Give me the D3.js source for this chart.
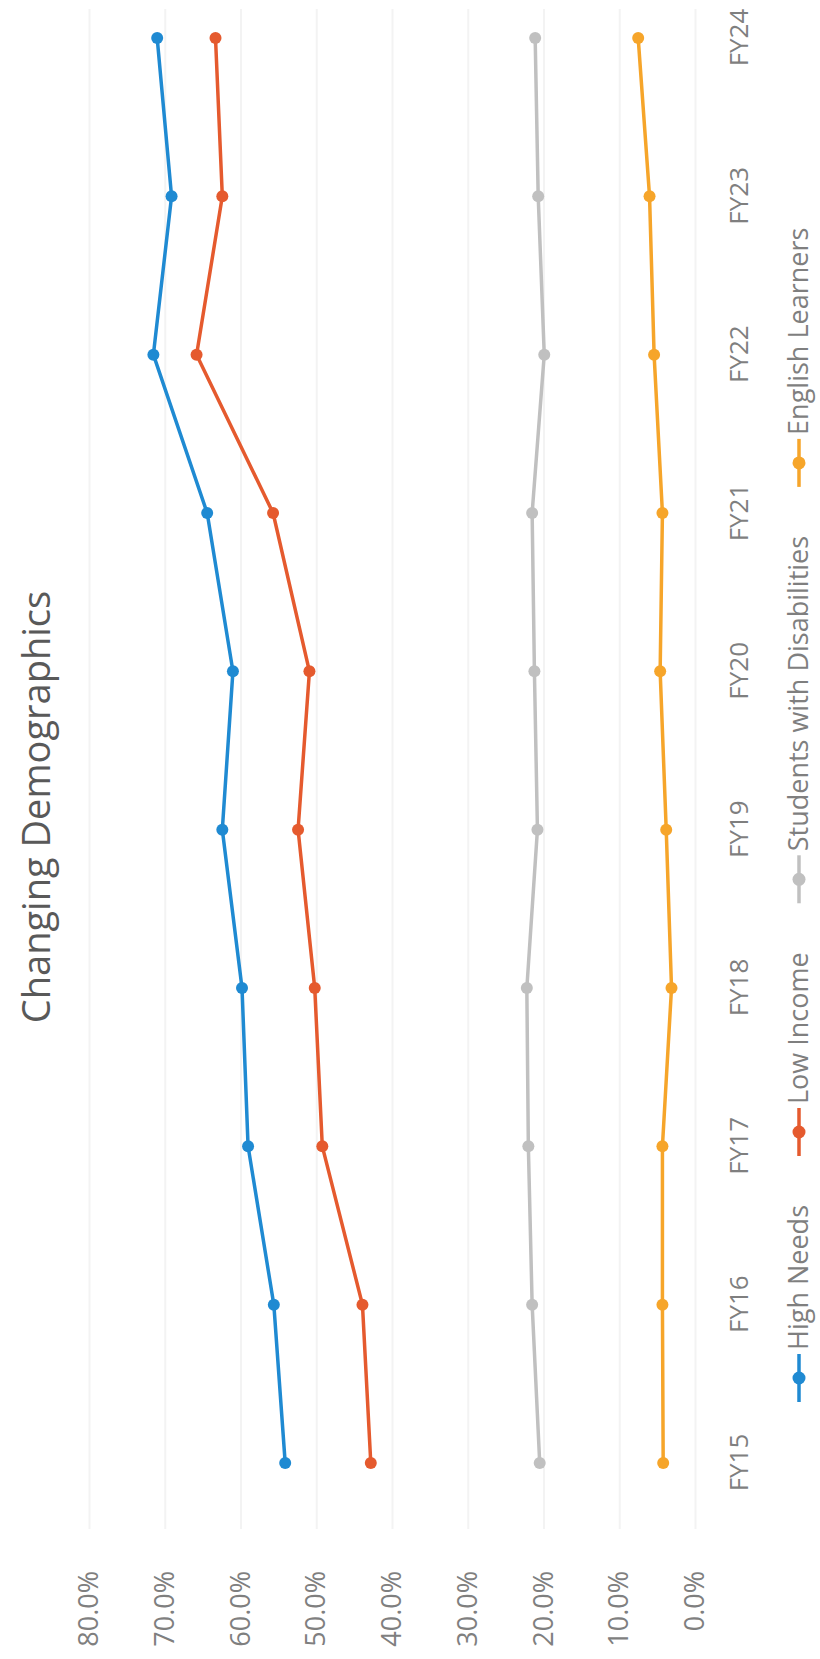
<!DOCTYPE html>
<html>
<head>
<meta charset="utf-8">
<script src="https://cdn.jsdelivr.net/npm/d3@7"></script>
<style>
  body { margin: 0; background: #fff; }
  text { font-family: "Open Sans", sans-serif; }
</style>
</head>
<body>
<div id="container"></div>
<script>
/* DATA */
const years = ["FY15", "FY16", "FY17", "FY18", "FY19", "FY20", "FY21", "FY22", "FY23", "FY24"];
const highNeeds = [54.1, 55.6, 59.0, 59.8, 62.4, 61.0, 64.4, 71.5, 69.1, 71.0];
const lowIncome = [42.8, 43.9, 49.2, 50.2, 52.4, 50.9, 55.7, 65.8, 62.4, 63.3];
const disabilities = [20.5, 21.5, 22.0, 22.2, 20.8, 21.2, 21.5, 19.9, 20.7, 21.1];
const englishLearners = [4.2, 4.3, 4.3, 3.1, 3.8, 4.6, 4.3, 5.4, 6.0, 7.5];
const seriesNames = ["High Needs", "Low Income", "Students with Disabilities", "English Learners"];
const valueTicks = [0, 10, 20, 30, 40, 50, 60, 70, 80];

/* CONSTANTS */
const pageW = 820, pageH = 1659;
const colors = ["#1f8ad2", "#e55a2e", "#c0c0c0", "#f6a52a"];

const series = [highNeeds, lowIncome, disabilities, englishLearners].map((vals, i) => ({
  name: seriesNames[i],
  color: colors[i],
  values: vals.map((v, j) => ({ year: years[j], value: v }))
}));

const svg = d3.select("#container")
  .append("svg")
  .attr("width", pageW)
  .attr("height", pageH);

// the chart is drawn lying flat, then turned a quarter turn to the left
const g = svg.append("g")
  .attr("transform", `translate(0,${pageH}) rotate(-90)`);

// SCALES
const xScale = d3.scalePoint()
  .domain(years)
  .range([196, 1621]);

const yScale = d3.scaleLinear()
  .domain([0, 80])
  .range([695, 89]);

// GRID + VALUE AXIS
const gridLeft = 130, gridRight = 1650;
const yAxis = g.append("g")
  .attr("transform", `translate(${gridLeft},0)`)
  .call(d3.axisLeft(yScale)
    .tickValues(valueTicks)
    .tickSize(-(gridRight - gridLeft))
    .tickPadding(42)
    .tickFormat(d => d.toFixed(1) + "%"));
yAxis.select(".domain").remove();
yAxis.selectAll(".tick line")
  .attr("stroke", "#f3f3f3")
  .attr("stroke-width", 2);
yAxis.selectAll(".tick text")
  .attr("fill", "#7f7f7f")
  .style("font-size", "27px")
  .style("font-family", "'Open Sans', sans-serif");

// CATEGORY AXIS
const xAxis = g.append("g")
  .attr("transform", "translate(0,748)")
  .call(d3.axisBottom(xScale).tickSize(0).tickPadding(0));
xAxis.select(".domain").remove();
xAxis.selectAll(".tick text")
  .attr("y", 0)
  .attr("dy", 0)
  .attr("fill", "#7f7f7f")
  .style("font-size", "26px")
  .style("font-family", "'Open Sans', sans-serif");

// LINES
const lineGen = d3.line()
  .x(d => xScale(d.year))
  .y(d => yScale(d.value));

g.selectAll(".line")
  .data(series)
  .join("path")
  .attr("class", "line")
  .attr("d", d => lineGen(d.values))
  .attr("fill", "none")
  .attr("stroke", d => d.color)
  .attr("stroke-width", 3.5)
  .attr("stroke-linejoin", "round");

g.selectAll(".pts")
  .data(series)
  .join("g")
  .attr("class", "pts")
  .attr("fill", d => d.color)
  .selectAll("circle")
  .data(d => d.values)
  .join("circle")
  .attr("cx", d => xScale(d.year))
  .attr("cy", d => yScale(d.value))
  .attr("r", 6);

// TITLE
g.append("text")
  .attr("x", 852)
  .attr("y", 50)
  .attr("text-anchor", "middle")
  .attr("fill", "#595959")
  .style("font-size", "38px")
  .text("Changing Demographics");

// LEGEND
const legend = g.append("g").attr("transform", "translate(0,799)");
let cursor = 257;
series.forEach(s => {
  const item = legend.append("g").attr("transform", `translate(${cursor},0)`);
  item.append("line")
    .attr("x1", 0).attr("x2", 48)
    .attr("stroke", s.color)
    .attr("stroke-width", 3.5);
  item.append("circle")
    .attr("cx", 24).attr("r", 6.5)
    .attr("fill", s.color);
  const t = item.append("text")
    .attr("x", 52)
    .attr("dy", "0.35em")
    .attr("fill", "#7f7f7f")
    .style("font-size", "27px")
    .text(s.name);
  cursor += 52 + t.node().getComputedTextLength() + 49;
});
</script>
</body>
</html>
